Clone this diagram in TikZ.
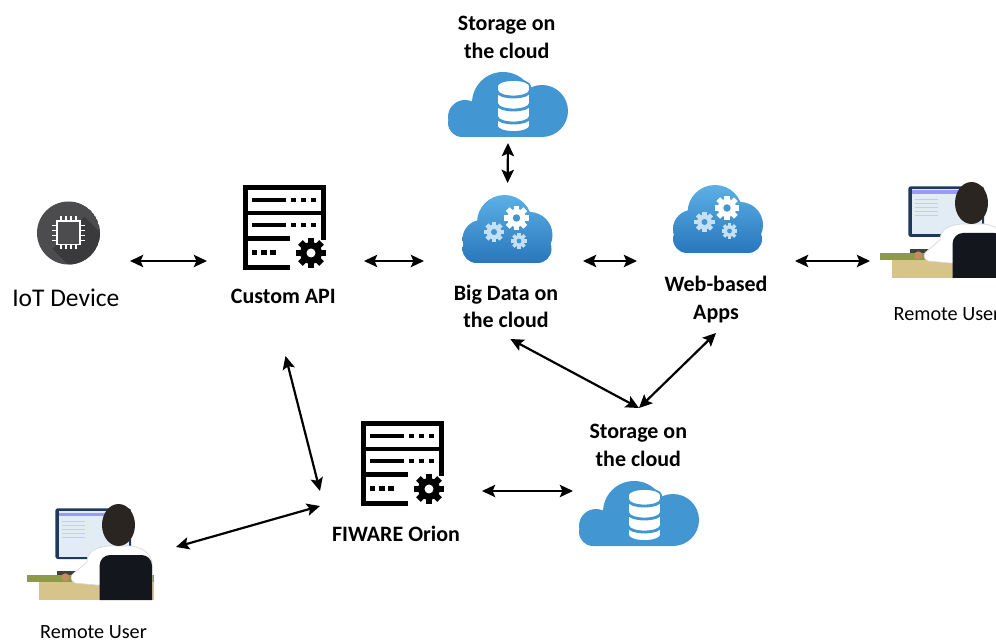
\documentclass[tikz,border=0pt]{standalone}
\usepackage{fontspec}
\setmainfont{Carlito}
\usetikzlibrary{arrows.meta}

\newcommand{\upx}{0.02cm}
\definecolor{cloudblue}{RGB}{66,150,210}
\definecolor{cloudtop}{RGB}{92,176,229}
\definecolor{cloudbot}{RGB}{40,118,188}
\definecolor{gearblue}{RGB}{198,224,243}
\definecolor{chipgrey}{RGB}{76,76,78}
\definecolor{chipshade}{RGB}{58,58,60}
\definecolor{bezel}{RGB}{29,57,92}
\definecolor{screen}{RGB}{226,236,244}
\definecolor{hair}{RGB}{43,37,33}
\definecolor{skin}{RGB}{197,140,98}
\definecolor{deskolive}{RGB}{141,155,70}
\definecolor{desktan}{RGB}{214,196,139}
\definecolor{chairblack}{RGB}{19,22,28}

\tikzset{
  slot/.style 2 args={minimum width=#1*\upx, minimum height=#2*\upx, inner sep=0pt, outer sep=0pt},
  link/.style={line width=1.25pt, {Stealth[length=7.5pt,width=7pt,inset=1.5pt]}-{Stealth[length=7.5pt,width=7pt,inset=1.5pt]}},
  lbl/.style={font=\fontsize{12.5}{15.6}\selectfont\bfseries, align=center},
  usr/.style={font=\fontsize{11.5}{14}\selectfont, inner sep=0pt},
  pics/gear/.style 2 args={code={
    \fill[#1] (0,0) circle (11);
    \foreach \a in {0,45,...,315}
      \fill[#1, rotate=\a] (-3.2,9) rectangle (3.2,15);
    \fill[#2] (0,0) circle (4.5);
  }},
  pics/server/.style={code={
    \begin{scope}[line width=2.7pt]
      \draw (47,-82.5) -- (2.5,-82.5) -- (2.5,-2.5) -- (80.5,-2.5) -- (80.5,-55);
      \draw (2.5,-28) -- (80.5,-28);
      \draw (2.5,-53.5) -- (47,-53.5);
    \end{scope}
    \foreach \y in {-15,-40} {
      \fill (9,\y-2) rectangle (43,\y+2);
      \foreach \x in {50.5,60.5,70.3}
        \fill (\x-2.7,\y-2.2) rectangle (\x+2.7,\y+2.2);
    }
    \foreach \x in {11.5,21,30}
      \fill (\x-2.7,-69.7) rectangle (\x+2.7,-65.3);
    \pic at (68,-68) {gear={black}{white}};
  }},
  pics/chip/.style={code={
    \begin{scope}
      \clip (0,0) circle (31.5);
      \fill[chipgrey] (0,0) circle (31.5);
      \fill[chipshade] (16,16) -- (76,-44) -- (44,-76) -- (-16,-16) -- cycle;
    \end{scope}
    \fill[white] (-12.5,-12.5) rectangle (12.5,12.5);
    \fill[chipgrey] (-10.8,-10.8) rectangle (10.8,10.8);
    \foreach \p in {-7.5,-2.5,2.5,7.5} {
      \fill[white] (\p-0.9,12) rectangle (\p+0.9,16.5);
      \fill[white] (\p-0.9,-12) rectangle (\p+0.9,-16.5);
      \fill[white] (12,\p-0.9) rectangle (16.5,\p+0.9);
      \fill[white] (-12,\p-0.9) rectangle (-16.5,\p+0.9);
    }
  }},
  pics/storecloud/.style={code={
    \fill[cloudblue] (-46,0) -- (34,0) -- (34,26) -- (-46,26) -- cycle
      (-46,14) circle (14) (-43,20) circle (17) (-5,34) circle (31) (34,26) circle (26);
    \begin{scope}[shift={(5.5,0)}]
      \filldraw[white, draw=cloudblue, line width=1pt] (-16.5,51) -- (-16.5,11)
        arc[start angle=180, end angle=360, x radius=16.5, y radius=6] -- (16.5,51)
        arc[start angle=0, end angle=180, x radius=16.5, y radius=6] -- cycle;
      \foreach \y in {46,33,20}
        \draw[cloudblue, line width=1.6pt] (-16.5,\y) arc[start angle=180, end angle=360, x radius=16.5, y radius=6];
    \end{scope}
  }},
  pics/appcloud/.style={code={
    \shade[top color=cloudtop, bottom color=cloudbot] (-31,0) -- (30,0) -- (30,28) -- (-31,28) -- cycle
      (-31,14) circle (14) (30,14) circle (14) (-26,24) circle (19) (-3,40.5) circle (27.5) (22,28) circle (23);
    \pic[scale=0.67] at (-13.5,31) {gear={gearblue}{cloudblue}};
    \pic[scale=0.53] at (11.5,22) {gear={gearblue}{cloudblue}};
    \pic[scale=0.83] at (9,45) {gear={white}{cloudblue}};
  }},
  pics/remoteuser/.style={code={
    \fill[desktan] (11.7,-76.7) rectangle (127,-95);
    \fill[deskolive] (0,-70) rectangle (127,-76.7);
    \fill[black!75] (30,-66) rectangle (50,-70);
    \fill[bezel, rounded corners=1.5pt] (28.3,-3.3) rectangle (104,-54);
    \fill[screen] (31.6,-6) rectangle (101.7,-51.5);
    \fill[blue!40!white] (31.6,-7.5) rectangle (101.7,-11);
    \foreach \y in {-16,-20,-24,-28,-32}
      \fill[blue!22] (35,\y) rectangle (58,\y-1.2);
    \filldraw[white, draw=black!15, line width=0.4pt] (47,-68) -- (60,-57)
      .. controls (60,-47) and (68,-42) .. (82,-41) -- (104,-41)
      .. controls (117,-43) and (124,-49) .. (125,-58) -- (125,-80) -- (70,-80) -- (48,-78)
      .. controls (43,-76) and (43,-70) .. (47,-68) -- cycle;
    \fill[skin] (38.3,-72.3) circle (4);
    \fill[hair] (91.5,-20) ellipse (16.5 and 21);
    \fill[chairblack] (72.6,-95) [rounded corners=6pt] -- (72.6,-50) -- (125,-50) [sharp corners] -- (125,-95) -- cycle;
  }}
}

\begin{document}
\begin{tikzpicture}[x=\upx, y=\upx]
\useasboundingbox (0,0) rectangle (996,642);

% where the arrows meet each part
\node[slot={130}{20}]  (iot)     at (65,381) {};
\node[slot={157}{190}] (api)     at (285.5,381) {};
\node[slot={159}{156}] (bigdata) at (503.5,381) {};
\node[slot={158}{144}] (webapps) at (716,381) {};
\node[slot={126}{20}]  (userR)   at (933,381) {};
\node[slot={130}{126}] (storeT)  at (508,562) {};
\node[slot={132}{166}] (storeB)  at (639,151) {};
\node[slot={162}{30}]  (fiware)  at (401,136) {};
\node[slot={172}{20}]  (userL)   at (90,95) {};

% icons
\pic at (68.5,409) {chip};
\pic at (243,457) {server};
\pic at (361,221) {server};
\pic at (508,505) {storecloud};
\pic at (639,96) {storecloud};
\pic at (507.5,379) {appcloud};
\pic at (718,389) {appcloud};
\pic at (27,137) {remoteuser};
\pic at (880,459) {remoteuser};

% labels
\node[font=\fontsize{14.5}{17}\selectfont, anchor=base] (iottxt) at (65.8,335.3) {IoT Device};
\node[lbl, anchor=base] (apitxt) at (283.3,338.7) {Custom API};
\node[lbl] (bigtxt) at (506,335.7) {Big Data on\\the cloud};
\node[lbl] (webtxt) at (716,342.6) {Web-based\\Apps};
\node[lbl] (storeTtxt) at (506.7,604.7) {Storage on\\the cloud};
\node[lbl] (storeBtxt) at (638.3,196.5) {Storage on\\the cloud};
\node[lbl, anchor=base] (fiwaretxt) at (396,101) {FIWARE Orion};
\node[usr, anchor=base west] (userRtxt) at (893.3,321.3) {Remote User};
\node[usr, anchor=base] (userLtxt) at (93.5,4) {Remote User};

\draw[link] (iot) -- (api);
\draw[link] (api) -- (bigdata);
\draw[link] (bigdata) -- (webapps);
\draw[link] (webapps) -- (userR);
\draw[link] (storeT.south) -- (bigdata.87);
\draw[link] (bigdata.-85) -- (storeB.north);
\draw[link] (webapps.south) -- (storeB.north);
\draw[link] (api.south) -- (fiware.north west);
\draw[link] (fiware.north east) -- (storeB.west);
\draw[link] (fiware.west) -- (userL.east);
\end{tikzpicture}
\end{document}
